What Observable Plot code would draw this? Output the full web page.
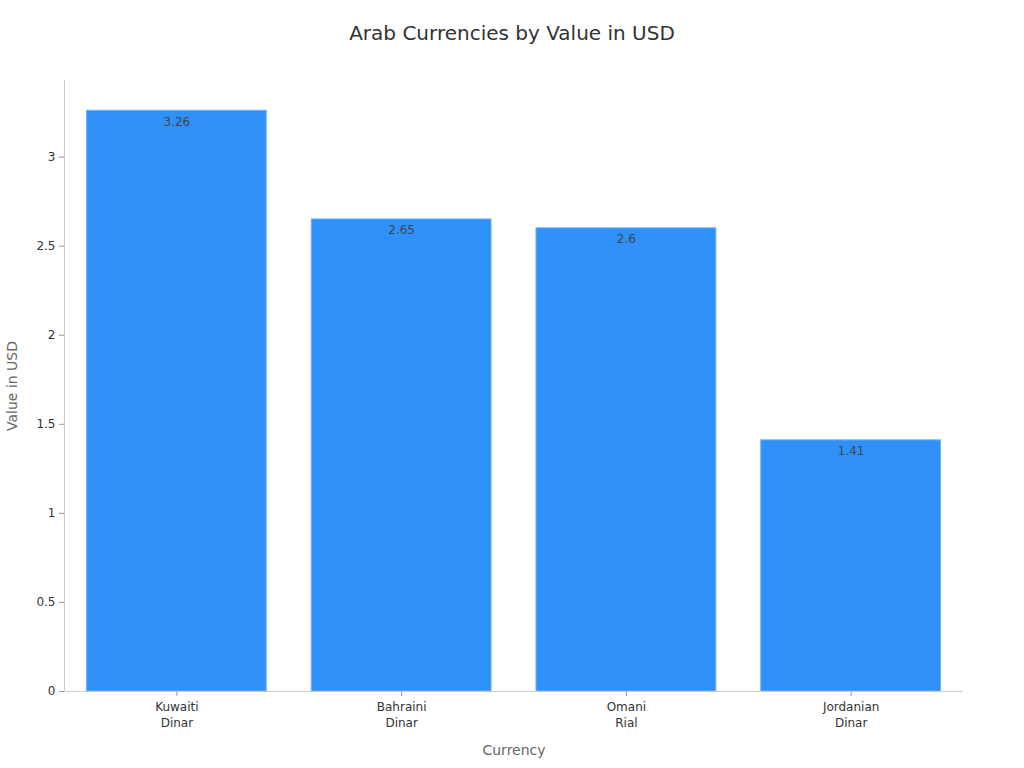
<!DOCTYPE html>
<html>
<head>
<meta charset="utf-8">
<script src="https://cdn.jsdelivr.net/npm/d3@7"></script>
<script src="https://cdn.jsdelivr.net/npm/@observablehq/plot@0.6"></script>
<style>
  html, body { margin: 0; padding: 0; background: #fff; }
  body { width: 1024px; height: 768px; overflow: hidden; font-family: "DejaVu Sans", sans-serif; }
  #title { height: 64px; line-height: 66px; text-align: center; font-size: 20px; color: #333; }
</style>
</head>
<body>
<div id="title">Arab Currencies by Value in USD</div>
<div id="chart"></div>
<script>
const currencies = ["Kuwaiti Dinar", "Bahraini Dinar", "Omani Rial", "Jordanian Dinar"];
const values = [3.26, 2.65, 2.6, 1.41];
const yTicks = [0, 0.5, 1, 1.5, 2, 2.5, 3];

const data = currencies.map((c, i) => ({currency: c, value: values[i]}));

const chart = Plot.plot({
  width: 1024,
  height: 704,
  marginTop: 16,
  marginBottom: 77,
  marginLeft: 64,
  marginRight: 61,
  style: {fontFamily: "DejaVu Sans, sans-serif", fontSize: "12px", color: "#333", background: "#fff"},
  x: {domain: currencies, paddingInner: 0.2, paddingOuter: 0.1, round: false},
  y: {domain: [0, 3.43]},
  marks: [
    Plot.barY(data, {x: "currency", y: "value", fill: "#2f91f7", stroke: "#6fb2fa", strokeWidth: 1}),
    Plot.text(data, {x: "currency", y: "value", text: d => String(d.value), dy: 11, fill: "#444", fontSize: 12}),
    Plot.ruleY([0], {stroke: "#ccc"}),
    Plot.frame({anchor: "left", stroke: "#ccc"}),
    Plot.axisX({
      tickFormat: d => d.replace(" ", "\n"),
      tickSize: 5, tickPadding: 3, lineHeight: 1.35,
      stroke: "#999", fill: "#333",
      label: "Currency", labelAnchor: "center", labelOffset: 63, labelArrow: false
    }),
    Plot.axisY({
      ticks: yTicks,
      tickFormat: d => String(d),
      tickSize: 5, stroke: "#999", fill: "#333",
      label: "Value in USD", labelAnchor: "center", labelOffset: 57, labelArrow: false
    })
  ]
});
document.getElementById("chart").appendChild(chart);
const lab = d3.select(chart).selectAll("[aria-label='x-axis label'], [aria-label='y-axis label']");
lab.attr("fill", "#666").style("font-size", "14px");
lab.selectAll("text").each(function() { this.textContent = this.textContent.replace(/\s*[↑→]\s*/g, "").trim(); });
</script>
</body>
</html>
